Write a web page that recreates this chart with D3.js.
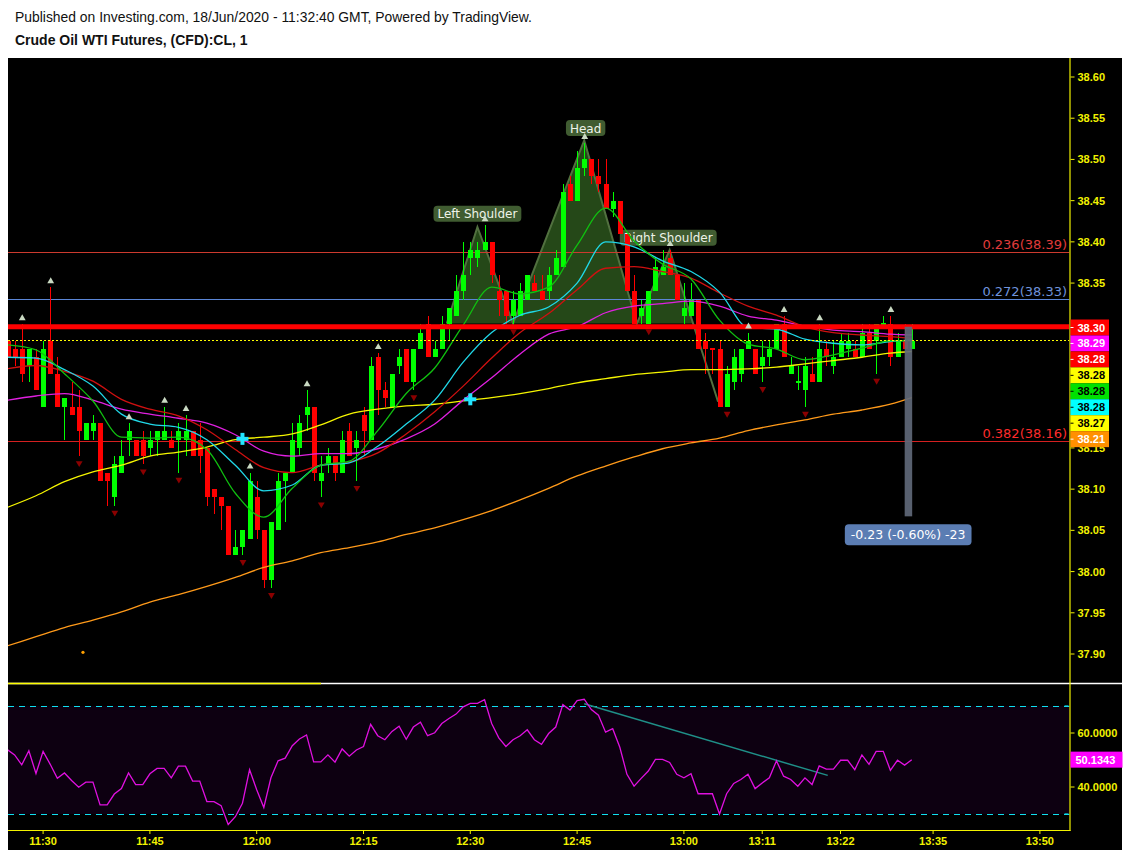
<!DOCTYPE html>
<html><head><meta charset="utf-8">
<script src="https://cdn.jsdelivr.net/npm/d3@7"></script>
<style>body{margin:0;background:#fff}svg{display:block}</style>
</head><body>
<svg id="c" width="1128" height="854"></svg>
<script>
// ---------------- DATA ----------------
const headerLine1 = "Published on Investing.com, 18/Jun/2020 - 11:32:40 GMT, Powered by TradingView.";
const headerLine2 = "Crude Oil WTI Futures, (CFD):CL, 1";

// 1-minute bars, bar 0 = 11:25
const opens  = [38.28,38.27,38.27,38.25,38.26,38.20,38.28,38.24,38.20,38.20,38.20,38.16,38.17,38.18,38.12,38.09,38.12,38.16,38.16,38.16,38.15,38.16,38.16,38.16,38.16,38.16,38.17,38.16,38.15,38.10,38.09,38.08,38.02,38.03,38.04,38.09,38.05,37.99,38.05,38.11,38.12,38.15,38.19,38.20,38.11,38.13,38.14,38.12,38.17,38.15,38.19,38.16,38.26,38.22,38.20,38.25,38.27,38.23,38.27,38.30,38.26,38.27,38.30,38.31,38.34,38.38,38.38,38.39,38.40,38.34,38.34,38.31,38.31,38.33,38.35,38.34,38.34,38.36,38.37,38.47,38.45,38.49,38.50,38.48,38.47,38.44,38.45,38.41,38.34,38.31,38.30,38.34,38.36,38.38,38.36,38.31,38.31,38.33,38.28,38.271,38.27,38.20,38.23,38.24,38.27,38.27,38.25,38.26,38.27,38.30,38.24,38.23,38.22,38.24,38.23,38.27,38.25,38.26,38.27,38.27,38.26,38.29,38.28,38.30,38.30,38.26,38.28,38.27];
const highs  = [38.28,38.28,38.30,38.27,38.27,38.28,38.345,38.26,38.21,38.23,38.22,38.18,38.19,38.18,38.12,38.14,38.16,38.18,38.16,38.17,38.17,38.17,38.20,38.17,38.18,38.19,38.17,38.18,38.15,38.10,38.09,38.08,38.05,38.05,38.12,38.11,38.05,38.06,38.12,38.12,38.18,38.19,38.22,38.20,38.14,38.15,38.14,38.17,38.18,38.17,38.20,38.26,38.265,38.23,38.24,38.27,38.27,38.27,38.30,38.31,38.28,38.31,38.32,38.36,38.40,38.40,38.40,38.42,38.40,38.36,38.34,38.34,38.35,38.36,38.36,38.36,38.37,38.39,38.47,38.48,38.51,38.52,38.50,38.50,38.50,38.46,38.45,38.41,38.36,38.33,38.34,38.38,38.39,38.39,38.36,38.35,38.35,38.33,38.29,38.271,38.28,38.25,38.27,38.27,38.29,38.27,38.28,38.28,38.30,38.31,38.26,38.25,38.26,38.26,38.30,38.28,38.28,38.29,38.29,38.28,38.30,38.30,38.30,38.31,38.31,38.29,38.30,38.30];
const lows   = [38.26,38.25,38.23,38.23,38.22,38.20,38.24,38.20,38.16,38.19,38.14,38.16,38.16,38.11,38.08,38.08,38.12,38.14,38.14,38.13,38.14,38.14,38.16,38.15,38.12,38.14,38.14,38.12,38.08,38.07,38.05,38.02,38.02,38.02,38.04,38.04,37.98,37.98,38.05,38.06,38.12,38.14,38.17,38.11,38.09,38.12,38.11,38.12,38.14,38.11,38.14,38.16,38.19,38.20,38.20,38.24,38.23,38.22,38.27,38.26,38.26,38.27,38.28,38.31,38.33,38.36,38.37,38.39,38.35,38.31,38.30,38.30,38.31,38.33,38.34,38.33,38.33,38.36,38.37,38.45,38.45,38.48,38.47,38.46,38.44,38.43,38.41,38.34,38.30,38.30,38.30,38.34,38.36,38.36,38.33,38.30,38.31,38.27,38.24,38.24,38.20,38.20,38.22,38.23,38.27,38.24,38.23,38.25,38.27,38.26,38.24,38.22,38.20,38.23,38.23,38.25,38.24,38.26,38.26,38.26,38.26,38.27,38.24,38.30,38.25,38.26,38.27,38.27];
const closes = [38.26,38.26,38.24,38.27,38.22,38.27,38.24,38.20,38.21,38.19,38.17,38.18,38.18,38.11,38.11,38.13,38.14,38.17,38.14,38.14,38.16,38.17,38.17,38.15,38.17,38.17,38.14,38.14,38.09,38.09,38.08,38.02,38.03,38.05,38.11,38.05,37.99,38.06,38.11,38.12,38.16,38.18,38.20,38.12,38.12,38.14,38.12,38.16,38.14,38.16,38.17,38.25,38.22,38.21,38.24,38.26,38.23,38.27,38.29,38.26,38.27,38.30,38.32,38.34,38.36,38.39,38.39,38.40,38.36,38.33,38.31,38.33,38.34,38.36,38.34,38.33,38.36,38.38,38.46,38.45,38.49,38.50,38.48,38.47,38.44,38.45,38.41,38.34,38.30,38.32,38.34,38.37,38.37,38.36,38.33,38.32,38.33,38.27,38.27,38.27,38.20,38.24,38.26,38.27,38.28,38.24,38.26,38.27,38.30,38.26,38.25,38.231,38.25,38.23,38.27,38.26,38.26,38.28,38.28,38.26,38.29,38.27,38.30,38.301,38.26,38.28,38.27,38.28];

// moving averages sampled along the bars
const maBars     = [0,4,8,12,16,20,24,28,32,36,40,44,48,52,56,60,64,68,72,76,80,84,88,92,96,100,104,108,112,116,120,124,127];
const maGreen    = [38.275,38.269,38.240,38.207,38.163,38.162,38.163,38.148,38.095,38.066,38.101,38.129,38.134,38.171,38.216,38.247,38.299,38.345,38.337,38.345,38.396,38.441,38.401,38.373,38.355,38.305,38.276,38.270,38.257,38.263,38.271,38.280,38.280];
const maCyan     = [38.260,38.259,38.245,38.225,38.191,38.179,38.175,38.160,38.129,38.098,38.105,38.129,38.132,38.152,38.179,38.208,38.254,38.290,38.311,38.321,38.350,38.400,38.394,38.377,38.364,38.339,38.296,38.294,38.282,38.277,38.275,38.279,38.281];
const maRed      = [38.246,38.250,38.243,38.231,38.209,38.197,38.189,38.172,38.148,38.126,38.120,38.129,38.133,38.144,38.167,38.194,38.225,38.259,38.290,38.313,38.342,38.368,38.370,38.364,38.356,38.338,38.322,38.311,38.297,38.290,38.287,38.285,38.283];
const maMagenta  = [38.208,38.213,38.216,38.208,38.197,38.191,38.186,38.180,38.166,38.146,38.140,38.143,38.143,38.149,38.161,38.179,38.208,38.235,38.264,38.288,38.297,38.314,38.322,38.325,38.328,38.322,38.310,38.305,38.298,38.293,38.291,38.288,38.287];
const maYellow   = [38.078,38.092,38.109,38.121,38.129,38.140,38.145,38.151,38.160,38.163,38.167,38.178,38.191,38.197,38.201,38.203,38.207,38.211,38.216,38.222,38.229,38.234,38.239,38.242,38.245,38.245,38.246,38.248,38.252,38.256,38.260,38.265,38.267];
const maOrange   = [37.910,37.921,37.932,37.941,37.951,37.963,37.972,37.982,37.993,38.005,38.013,38.023,38.029,38.036,38.045,38.053,38.063,38.074,38.087,38.101,38.116,38.128,38.139,38.149,38.156,38.162,38.171,38.178,38.184,38.191,38.196,38.203,38.211];

const rsi = [53.8,51.9,48.2,53.4,45.0,53.2,48.4,43.2,45.2,42.4,
 39.9,41.8,41.8,33.4,33.4,37.4,39.4,45.2,40.9,40.9,
 44.9,46.9,46.9,43.4,47.7,47.7,42.2,42.2,34.6,34.6,
 33.1,26.1,29.0,34.0,46.4,39.0,32.4,43.4,49.7,50.7,
 55.3,57.8,59.3,49.3,49.3,51.9,49.2,54.1,51.4,53.7,
 55.0,63.2,59.0,57.5,60.6,62.5,57.7,62.2,64.0,59.0,
 60.1,63.5,65.4,67.0,69.7,71.0,71.0,72.3,63.5,58.2,
 55.0,57.5,59.0,61.2,57.5,55.8,59.8,62.2,70.5,68.5,
 72.0,72.5,68.7,66.6,60.3,61.6,54.7,44.7,40.3,43.2,
 45.9,50.2,50.2,49.1,44.7,43.4,44.9,37.5,37.5,37.5,
 30.0,37.5,41.3,42.8,44.7,39.4,41.5,43.4,49.7,44.0,
 42.8,40.3,43.4,40.9,47.8,46.6,46.6,49.9,49.9,46.4,
 51.9,48.4,53.2,53.2,46.2,49.9,48.1,50.13];
const rsiLevels = [70,30];
const rsiTicks = [60,40];
const rsiTickLabels = ["60.0000","40.0000"];
const rsiLast = "50.1343";
const rsiTrendBars = [81,115.2];
const rsiTrendValues = [70.8,44.3];

const highMarkBars = [2,6,17,22,25,34,42,52,67,81,93,104,109,114,124];
const lowMarkBars  = [10,15,19,24,33,37,44,49,57,71,90,101,106,112,122];
const crossBars = [33,65];
const crossPrices = [38.161,38.209];
const dotBars = [10.6];
const dotPrices = [37.902];

const fibRatios = ["0.236","0.272","0.382"];
const fibPrices = [38.388,38.331,38.159];
const fibLabelValues = ["38.39","38.33","38.16"];
const supportPrice = 38.297;
const lastPrice = 38.281;

const hsBars   = [61.7,66,71,81,88.4,93,99.8];
const hsPrices = [38.301,38.418,38.301,38.523,38.301,38.390,38.206];
const hsNeck = 38.301;
const hsLabels = ["Left Shoulder","Head","Right Shoulder"];
const hsLabelBars = [66.0,81.2,92.8];
const hsLabelPrices = [38.434,38.538,38.405];

const measureBar = 126.5;
const measureFrom = 38.297, measureTo = 38.067;
const measureText = "-0.23 (-0.60%) -23";

// price-axis labels; the ones sitting under the value badges are covered there
const priceTicks = [38.60,38.55,38.50,38.45,38.40,38.35,38.15,38.10,38.05,38.00,37.95,37.90];
const tickBars = [5,20,35,50,65,80,95,106,117,130,145];
const tickLabels = ["11:30","11:45","12:00","12:15","12:30","12:45","13:00","13:11","13:22","13:35","13:50"];
const badgeLabels = ["38.30","38.29","38.28","38.28","38.28","38.28","38.27","38.21"];

// ---------------- DRAW ----------------
const svg = d3.select("#c");
const L = 8, R = 1069.5, PT = 58, PB = 683, RB = 830;
const x = d3.scaleLinear().domain([0,145]).range([7.5, 7.5 + 7.12*145]);
const y = d3.scaleLinear().domain([37.90,38.60]).range([654,77]);
const yr = d3.scaleLinear().domain([30,70]).range([814,706]);

svg.append("rect").attr("width",1128).attr("height",854).attr("fill","#fff");
svg.append("rect").attr("x",L).attr("y",PT).attr("width",1122-L).attr("height",850-PT).attr("fill","#000");

const defs = svg.append("defs");
defs.append("clipPath").attr("id","cp").append("rect").attr("x",L).attr("y",PT).attr("width",R-L).attr("height",PB-PT);
defs.append("clipPath").attr("id","cr").append("rect").attr("x",L).attr("y",PB+1).attr("width",R-L).attr("height",RB-PB-1);
defs.append("clipPath").attr("id","cb").append("rect").attr("x",R+1).attr("y",446.5).attr("width",60).attr("height",20);

// header
svg.append("text").attr("x",15).attr("y",22).attr("font-family","Liberation Sans, Arial, sans-serif").attr("font-size",13.9).attr("fill","#111").text(headerLine1);
svg.append("text").attr("x",15).attr("y",45).attr("font-family","Liberation Sans, Arial, sans-serif").attr("font-size",14).attr("font-weight","bold").attr("fill","#111").text(headerLine2);

const gp = svg.append("g").attr("clip-path","url(#cp)");

// H&S pattern
const pts = hsBars.map((b,i)=>[x(b), y(hsPrices[i])]);
const n = pts.length;
const a = pts[n-2], bpt = pts[n-1];
const ny = y(hsNeck);
const t = (ny - a[1])/(bpt[1]-a[1]);
const crossPt = [a[0] + t*(bpt[0]-a[0]), ny];
const fillPts = pts.slice(0,n-1).concat([crossPt]);
gp.append("path").attr("d", d3.line()(fillPts)+"Z").attr("fill","rgba(62,120,40,0.6)").attr("stroke","none");
gp.append("path").attr("d", d3.line()(pts)).attr("fill","none").attr("stroke","#51703f").attr("stroke-width",2);

// fib lines
const fibLineColors = ["#cc3a2e","#5b86d6","#d42020"];
const fibTextColors = ["#e23b3b","#6f93dc","#ff2b2b"];
fibPrices.forEach((p,i)=>{
  gp.append("line").attr("x1",L).attr("x2",R).attr("y1",Math.round(y(p))+0.5).attr("y2",Math.round(y(p))+0.5).attr("stroke",fibLineColors[i]).attr("stroke-width",1);
});

// pattern labels
hsLabels.forEach((s,i)=>{
  const cx = x(hsLabelBars[i]), cy = y(hsLabelPrices[i]);
  const g = gp.append("g");
  const tx = g.append("text").attr("x",cx).attr("y",cy+4.5).attr("text-anchor","middle").attr("font-family","DejaVu Sans, Verdana, sans-serif").attr("font-size",12).attr("fill","#eef3e8").text(s);
  const w = tx.node().getComputedTextLength()+8;
  g.insert("rect","text").attr("x",cx-w/2).attr("y",cy-8).attr("width",w).attr("height",16).attr("rx",4).attr("fill","#405c31");
});

// candles
const candleG = gp.append("g").attr("shape-rendering","crispEdges");
opens.forEach((o,i)=>{
  const c = closes[i], up = c >= o;
  const col = up ? "#00ff00" : "#ff0000";
  const cx = Math.round(x(i));
  candleG.append("line").attr("x1",cx+0.5).attr("x2",cx+0.5).attr("y1",y(highs[i])).attr("y2",y(lows[i])).attr("stroke",col).attr("stroke-width",1);
  const top = Math.min(y(o),y(c)), h = Math.max(1.5, Math.abs(y(o)-y(c)));
  candleG.append("rect").attr("x",cx-2).attr("y",top).attr("width",5).attr("height",h).attr("fill",col);
});

// MAs
const maLine = d3.line().x(d=>x(d[0])).y(d=>y(d[1])).curve(d3.curveMonotoneX);
const mas = [[maOrange,"#ff9a1a"],[maYellow,"#f5f500"],[maMagenta,"#e020e0"],[maRed,"#d01010"],[maCyan,"#20d8e8"],[maGreen,"#10c010"]];
mas.forEach(([vals,col])=>{
  gp.append("path").attr("d", maLine(maBars.map((b,i)=>[b,vals[i]]))).attr("fill","none").attr("stroke",col).attr("stroke-width",1.3);
});

// horizontal support line and last price line
gp.append("rect").attr("x",L).attr("width",R-L).attr("y",y(supportPrice)-2.5).attr("height",5).attr("fill","#ff0000");
gp.append("line").attr("x1",L).attr("x2",R).attr("y1",Math.round(y(lastPrice))+0.5).attr("y2",Math.round(y(lastPrice))+0.5).attr("stroke","#ffff00").attr("stroke-width",1).attr("stroke-dasharray","2,2");

// markers
const triUp = d3.symbol(d3.symbolTriangle).size(20);
highMarkBars.forEach(b=>{
  gp.append("path").attr("d",triUp()).attr("transform",`translate(${x(b)+0.5},${y(highs[b])-6})`).attr("fill","#c9d9c2");
});
lowMarkBars.forEach(b=>{
  gp.append("path").attr("d",triUp()).attr("transform",`translate(${x(b)+0.5},${y(lows[b])+7}) rotate(180)`).attr("fill","#8b0000");
});
crossBars.forEach((b,i)=>{
  const cx = x(b), cy = y(crossPrices[i]);
  gp.append("rect").attr("x",cx-6).attr("y",cy-2).attr("width",12).attr("height",4).attr("fill","#22e5ff");
  gp.append("rect").attr("x",cx-2).attr("y",cy-6).attr("width",4).attr("height",12).attr("fill","#22e5ff");
});
dotBars.forEach((b,i)=>{
  gp.append("circle").attr("cx",x(b)).attr("cy",y(dotPrices[i])).attr("r",1.6).attr("fill","#ffa000");
});

// measure tool
const mx = x(measureBar);
gp.append("rect").attr("x",mx-3.5).attr("width",7.5).attr("y",y(measureFrom)).attr("height",y(measureTo)-y(measureFrom)).attr("fill","rgba(95,104,120,0.92)");
{
  const g = gp.append("g");
  const ty = y(measureTo)+8;
  const tx = g.append("text").attr("x",mx).attr("y",ty+15).attr("text-anchor","middle").attr("font-family","DejaVu Sans, Verdana, sans-serif").attr("font-size",12.5).attr("fill","#fff").text(measureText);
  const w = tx.node().getComputedTextLength()+12;
  g.insert("rect","text").attr("x",mx-w/2).attr("y",ty).attr("width",w).attr("height",21).attr("rx",4).attr("fill","#5b7db3");
}

// fib text labels
fibPrices.forEach((p,i)=>{
  svg.append("text").attr("x",1067).attr("y",Math.round(y(p))-3).attr("text-anchor","end").attr("font-family","DejaVu Sans, Verdana, sans-serif").attr("font-size",13).attr("fill",fibTextColors[i]).text(`${fibRatios[i]}(${fibLabelValues[i]})`);
});

// RSI pane
const gr = svg.append("g").attr("clip-path","url(#cr)");
gr.append("rect").attr("x",L).attr("width",R-L).attr("y",yr(70)).attr("height",yr(30)-yr(70)).attr("fill","#0d0011");
rsiLevels.forEach(v=>{
  gr.append("line").attr("x1",L).attr("x2",R).attr("y1",Math.round(yr(v))+0.5).attr("y2",Math.round(yr(v))+0.5).attr("stroke","#10e0f0").attr("stroke-width",1.2).attr("stroke-dasharray","6,5");
});
gr.append("path").attr("d",d3.line().x(d=>x(d[0])).y(d=>yr(d[1]))(rsiTrendBars.map((b,i)=>[b,rsiTrendValues[i]]))).attr("stroke","#1f8f88").attr("stroke-width",1.5).attr("fill","none");
gr.append("path").attr("d",d3.line().x((d,i)=>x(i)).y(d=>yr(d))(rsi)).attr("stroke","#e010e0").attr("stroke-width",1.3).attr("fill","none");

// pane separator
svg.append("line").attr("x1",L).attr("x2",1122).attr("y1",PB+0.5).attr("y2",PB+0.5).attr("stroke","#fff").attr("stroke-width",1.5);
svg.append("line").attr("x1",L).attr("x2",321).attr("y1",PB+0.5).attr("y2",PB+0.5).attr("stroke","#ffff00").attr("stroke-width",1.5);

// axes
const axCol = "#f2f200";
const axFont = "Liberation Sans, Arial, sans-serif";
svg.append("line").attr("x1",R+0.5).attr("x2",R+0.5).attr("y1",PT).attr("y2",RB+1).attr("stroke",axCol).attr("stroke-width",1.2);
svg.append("line").attr("x1",L).attr("x2",R+1).attr("y1",RB+0.5).attr("y2",RB+0.5).attr("stroke",axCol).attr("stroke-width",1.2);

priceTicks.forEach(p=>{
  const yy = y(p);
  svg.append("line").attr("x1",R+1).attr("x2",R+5).attr("y1",yy).attr("y2",yy).attr("stroke",axCol);
  const tx = svg.append("text").attr("x",R+8).attr("y",yy+4).attr("font-family",axFont).attr("font-size",11).attr("font-weight","bold").attr("fill",axCol).text(p.toFixed(2));
  if (yy > 319 && yy < 452) tx.attr("clip-path","url(#cb)");
});
rsiTicks.forEach((v,i)=>{
  const yy = yr(v);
  svg.append("line").attr("x1",R+1).attr("x2",R+5).attr("y1",yy).attr("y2",yy).attr("stroke",axCol);
  svg.append("text").attr("x",R+8).attr("y",yy+4).attr("font-family",axFont).attr("font-size",11).attr("font-weight","bold").attr("fill",axCol).text(rsiTickLabels[i]);
});
rsiLevels.forEach(v=>{
  svg.append("line").attr("x1",R-5).attr("x2",R-1).attr("y1",yr(v)).attr("y2",yr(v)).attr("stroke","#10e0f0").attr("stroke-width",1.2);
});
tickBars.forEach((b,i)=>{
  svg.append("line").attr("x1",x(b)).attr("x2",x(b)).attr("y1",RB).attr("y2",RB+4).attr("stroke",axCol);
  svg.append("text").attr("x",x(b)).attr("y",RB+15).attr("text-anchor","middle").attr("font-family",axFont).attr("font-size",11).attr("font-weight","bold").attr("fill",axCol).text(tickLabels[i]);
});

// price badges
const badgeBg = ["#ff0000","#ff00ff","#ff0000","#ffff00","#00e000","#00ffff","#ffff00","#ff9000"];
const badgeFg = ["#fff","#fff","#fff","#000","#000","#000","#000","#fff"];
badgeLabels.forEach((s,i)=>{
  const top = 319.5 + i*15.95;
  svg.append("rect").attr("x",R+1).attr("y",top).attr("width",38.5).attr("height",16).attr("fill",badgeBg[i]);
  svg.append("line").attr("x1",R+1).attr("x2",R+4).attr("y1",top+8).attr("y2",top+8).attr("stroke",badgeFg[i]);
  svg.append("text").attr("x",R+8).attr("y",top+12).attr("font-family",axFont).attr("font-size",11).attr("font-weight","bold").attr("fill",badgeFg[i]).text(s);
});
// RSI badge
{
  const yy = yr(rsi[rsi.length-1]);
  svg.append("rect").attr("x",R+1).attr("y",yy-8).attr("width",52).attr("height",16).attr("fill","#ff00ff");
  svg.append("text").attr("x",R+6).attr("y",yy+4).attr("font-family",axFont).attr("font-size",11).attr("font-weight","bold").attr("fill","#fff").text(rsiLast);
}
</script>
</body></html>
